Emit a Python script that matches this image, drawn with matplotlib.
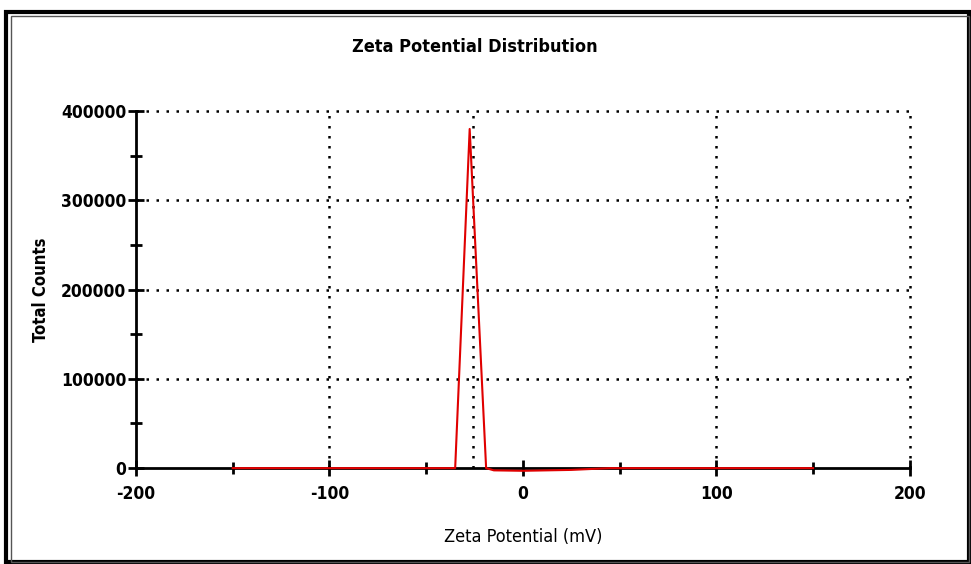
import matplotlib.pyplot as plt
from matplotlib.patches import Rectangle

# Curva de distribuição do potencial zeta
zeta_mv = [-150, -35, -27.5, -19, -15, 0, 25, 45, 150]
contagens = [0, 0, 380000, 0, -2500, -3000, -2000, 0, 0]

x_ticks = [-200, -100, 0, 100, 200]
y_ticks = [0, 100000, 200000, 300000, 400000]
x_grid = [-100, -26, 100, 200]
y_grid = [100000, 200000, 300000, 400000]

plt.rcParams['font.family'] = ['DejaVu Sans']
plt.rcParams['font.stretch'] = 'condensed'

fig = plt.figure(figsize=(9.71, 5.64), dpi=100)
ax = fig.add_axes([0.140, 0.170, 0.797, 0.633])

# Moldura dupla em volta da figura
fig.patches.append(Rectangle((0.006, 0.004), 0.992, 0.975, transform=fig.transFigure,
                             fill=False, lw=3, ec='black'))
fig.patches.append(Rectangle((0.011, 0.004), 0.987, 0.967, transform=fig.transFigure,
                             fill=False, lw=1, ec='#555555'))

for xv in x_grid:
    ax.axvline(xv, color='black', ls=(0, (1, 3)), lw=1.8, zorder=1, clip_on=False)
for yv in y_grid:
    ax.axhline(yv, color='black', ls=(0, (1, 3)), lw=1.8, zorder=1, clip_on=False)

ax.plot(zeta_mv, contagens, color='#e00000', lw=1.5, zorder=3, clip_on=False)

ax.set_xlim(-200, 200)
ax.set_ylim(0, 400000)
ax.set_xticks(x_ticks)
ax.set_xticks([-150, -50, 50, 150], minor=True)
ax.set_yticks(y_ticks)
ax.set_yticks([50000, 150000, 250000, 350000], minor=True)
ax.set_xticklabels([str(v) for v in x_ticks])
ax.set_yticklabels([str(v) for v in y_ticks])

for s in ['top', 'right']:
    ax.spines[s].set_visible(False)
for s in ['left', 'bottom']:
    ax.spines[s].set_linewidth(2)
    ax.spines[s].set_zorder(2)

ax.tick_params(which='both', direction='inout', width=2, length=12, labelsize=12.5)
ax.tick_params(which='minor', length=9)
ax.tick_params(axis='x', pad=6)
ax.tick_params(axis='y', pad=1)
for lab in ax.get_xticklabels() + ax.get_yticklabels():
    lab.set_fontweight('bold')

ax.set_xlabel('Zeta Potential (mV)', fontsize=13, labelpad=18)
ax.set_ylabel('Total Counts', fontsize=12, fontweight='bold', labelpad=8)
fig.text(0.489, 0.917, 'Zeta Potential Distribution', ha='center', va='center',
         fontsize=13, fontweight='semibold')

fig.savefig('out.png', dpi=100)
